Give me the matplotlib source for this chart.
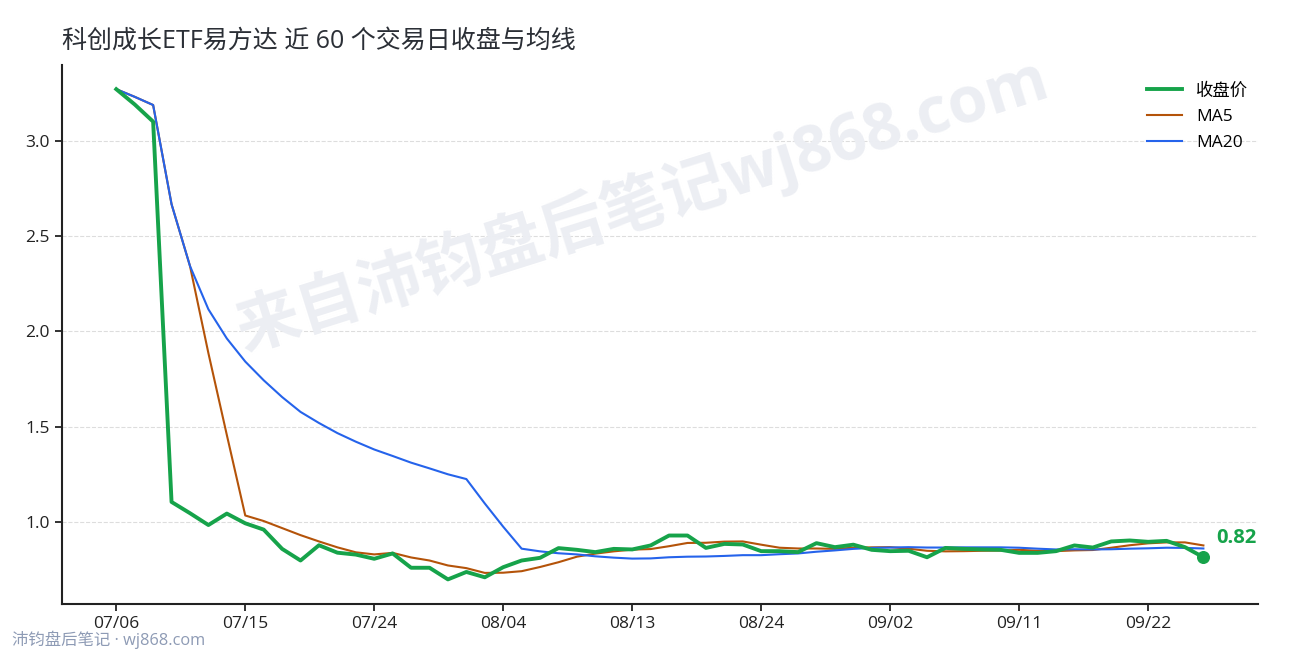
import numpy as np
import matplotlib
matplotlib.use('Agg')
from matplotlib import pyplot as plt

plt.rcParams['font.family'] = ['Open Sans', 'Noto Sans CJK SC', 'DejaVu Sans']

# trading days (MM/DD)
dates = ['07/06', '07/07', '07/08', '07/09', '07/10',
         '07/13', '07/14', '07/15', '07/16', '07/17',
         '07/20', '07/21', '07/22', '07/23', '07/24',
         '07/27', '07/28', '07/29', '07/30', '07/31',
         '08/03', '08/04', '08/05', '08/06', '08/07',
         '08/10', '08/11', '08/12', '08/13', '08/14',
         '08/17', '08/18', '08/19', '08/20', '08/21',
         '08/24', '08/25', '08/26', '08/27', '08/28',
         '08/31', '09/01', '09/02', '09/03', '09/04',
         '09/07', '09/08', '09/09', '09/10', '09/11',
         '09/14', '09/15', '09/16', '09/17', '09/18',
         '09/21', '09/22', '09/23', '09/24', '09/25']

close = [3.270, 3.190, 3.100, 1.106, 1.047, 0.985, 1.045, 0.994, 0.961, 0.860,
         0.799, 0.879, 0.840, 0.830, 0.808, 0.836, 0.761, 0.761, 0.700, 0.739,
         0.711, 0.764, 0.799, 0.813, 0.864, 0.855, 0.843, 0.860, 0.857, 0.878,
         0.930, 0.930, 0.865, 0.886, 0.883, 0.848, 0.848, 0.843, 0.890, 0.869,
         0.882, 0.855, 0.848, 0.850, 0.816, 0.865, 0.860, 0.857, 0.855, 0.839,
         0.839, 0.848, 0.878, 0.867, 0.899, 0.904, 0.897, 0.902, 0.869, 0.816]

ma5 = [3.270, 3.230, 3.187, 2.667, 2.343, 1.886, 1.457, 1.035, 1.006, 0.969,
       0.932, 0.899, 0.868, 0.842, 0.831, 0.839, 0.815, 0.799, 0.773, 0.759,
       0.734, 0.735, 0.743, 0.765, 0.790, 0.819, 0.835, 0.847, 0.856, 0.859,
       0.874, 0.891, 0.892, 0.898, 0.899, 0.882, 0.866, 0.862, 0.862, 0.860,
       0.866, 0.868, 0.869, 0.861, 0.850, 0.847, 0.848, 0.850, 0.851, 0.855,
       0.850, 0.848, 0.852, 0.854, 0.866, 0.879, 0.889, 0.894, 0.894, 0.878]

ma20 = [3.270, 3.230, 3.187, 2.667, 2.343, 2.116, 1.963, 1.842, 1.744, 1.656,
        1.578, 1.520, 1.467, 1.422, 1.381, 1.347, 1.312, 1.282, 1.251, 1.226,
        1.098, 0.976, 0.861, 0.847, 0.837, 0.831, 0.821, 0.814, 0.809, 0.810,
        0.816, 0.819, 0.820, 0.823, 0.827, 0.827, 0.832, 0.836, 0.845, 0.852,
        0.860, 0.865, 0.867, 0.869, 0.867, 0.867, 0.868, 0.868, 0.868, 0.866,
        0.861, 0.857, 0.858, 0.857, 0.858, 0.861, 0.863, 0.866, 0.865, 0.862]

title = '科创成长ETF易方达 近 60 个交易日收盘与均线'
green = '#16a34a'
orange = '#b45309'
blue = '#2563eb'

x = np.arange(len(close))

fig = plt.figure(figsize=(12.9, 6.6), dpi=100)
ax = fig.add_axes([0.048, 0.085, 0.927, 0.817])

# watermark
fig.text(0.498, 0.69, '来自沛钧盘后笔记wj868.com', fontsize=46, fontweight='bold',
         color='#eceef3', rotation=17.5, ha='center', va='center', zorder=0)
ax.patch.set_alpha(0)

ax.plot(x, close, color=green, lw=2.8, label='收盘价', zorder=4)
ax.plot(x, ma5, color=orange, lw=1.5, label='MA5', zorder=3)
ax.plot(x, ma20, color=blue, lw=1.5, label='MA20', zorder=3)

ax.scatter([x[-1]], [close[-1]], s=70, color=green, zorder=5)
ax.annotate(f'{close[-1]:.2f}', (x[-1], close[-1]), xytext=(9, 14),
            textcoords='offset points', color=green, fontsize=14.5,
            fontweight='bold', ha='left', va='center')

ax.set_xticks(x[::7])
ax.set_xticklabels(dates[::7])
ax.set_yticks([1.0, 1.5, 2.0, 2.5, 3.0])
ax.set_yticklabels(['1.0', '1.5', '2.0', '2.5', '3.0'])
ax.tick_params(labelsize=12.5, colors='#222222', length=5, width=1.3)

ax.yaxis.grid(True, linestyle='--', color='#dddddd', linewidth=0.8)
ax.set_axisbelow(True)
for s in ['top', 'right']:
    ax.spines[s].set_visible(False)
for s in ['left', 'bottom']:
    ax.spines[s].set_color('#222222')
    ax.spines[s].set_linewidth(1.5)

ax.legend(loc='upper right', frameon=False, fontsize=12.5, handlelength=2.0,
          labelspacing=0.55, bbox_to_anchor=(1.005, 0.995))
ax.set_title(title, loc='left', fontsize=18, color='#2b2f36', pad=12)

fig.text(0.009, 0.016, '沛钧盘后笔记 · wj868.com', fontsize=11.8,
         color='#8e9bb5', ha='left', va='bottom')

fig.savefig('out.png', dpi=100)
